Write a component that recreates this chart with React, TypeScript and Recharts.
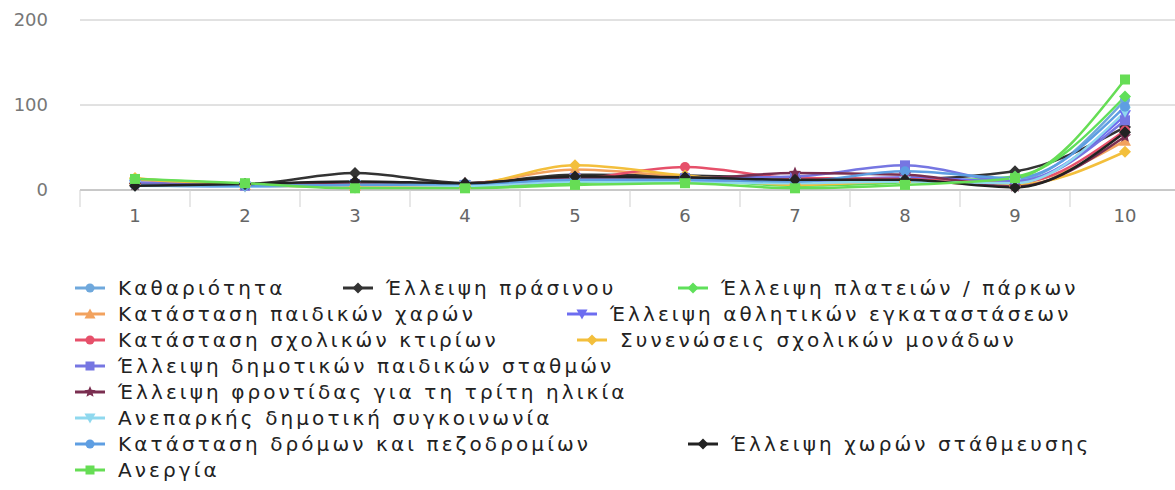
import React from 'react';
import { LineChart, Line, XAxis, YAxis, CartesianGrid } from 'recharts';

const categories = ['1', '2', '3', '4', '5', '6', '7', '8', '9', '10'];
const yTicks = [0, 100, 200];

const kathariotita = [7, 5, 7, 6, 12, 10, 8, 12, 12, 106];
const prasinou = [8, 7, 20, 8, 18, 17, 14, 13, 22, 74];
const plateion = [13, 7, 3, 4, 8, 12, 5, 9, 16, 110];
const paidikonXaron = [12, 6, 5, 7, 24, 16, 12, 14, 9, 58];
const athlitikon = [6, 4, 6, 6, 14, 11, 10, 15, 10, 88];
const sxolikonKtirion = [8, 5, 8, 6, 12, 27, 14, 13, 8, 70];
const synenoseis = [14, 5, 4, 6, 29, 17, 6, 10, 6, 45];
const stathmon = [9, 5, 7, 6, 14, 14, 16, 29, 10, 82];
const tritiIlikia = [6, 6, 7, 8, 14, 13, 20, 18, 4, 63];
const sygkoinonia = [5, 4, 6, 5, 10, 9, 8, 10, 8, 92];
const dromon = [6, 5, 6, 7, 12, 12, 10, 22, 14, 98];
const stathmeusis = [5, 7, 10, 8, 16, 15, 12, 12, 3, 68];
const anergia = [13, 8, 2, 2, 6, 8, 2, 6, 14, 130];

const series = [
  { key: 's1', name: 'Καθαριότητα', values: kathariotita, color: '#6fa8dc', shape: 'circle' },
  { key: 's2', name: 'Έλλειψη πράσινου', values: prasinou, color: '#333333', shape: 'diamond' },
  { key: 's3', name: 'Έλλειψη πλατειών / πάρκων', values: plateion, color: '#5fe05a', shape: 'diamond' },
  { key: 's4', name: 'Κατάσταση παιδικών χαρών', values: paidikonXaron, color: '#f2a25e', shape: 'triangle' },
  { key: 's5', name: 'Έλλειψη αθλητικών εγκαταστάσεων', values: athlitikon, color: '#6d6df0', shape: 'triangleDown' },
  { key: 's6', name: 'Κατάσταση σχολικών κτιρίων', values: sxolikonKtirion, color: '#e6506a', shape: 'circle' },
  { key: 's7', name: 'Συνενώσεις σχολικών μονάδων', values: synenoseis, color: '#f3bf3c', shape: 'diamond' },
  { key: 's8', name: 'Έλλειψη δημοτικών παιδικών σταθμών', values: stathmon, color: '#7676e2', shape: 'square' },
  { key: 's9', name: 'Έλλειψη φροντίδας για τη τρίτη ηλικία', values: tritiIlikia, color: '#7a2e50', shape: 'star' },
  { key: 's10', name: 'Ανεπαρκής δημοτική συγκοινωνία', values: sygkoinonia, color: '#8fd8ee', shape: 'triangleDown' },
  { key: 's11', name: 'Κατάσταση δρόμων και πεζοδρομίων', values: dromon, color: '#5e9ee2', shape: 'circle' },
  { key: 's12', name: 'Έλλειψη χωρών στάθμευσης', values: stathmeusis, color: '#222222', shape: 'diamond' },
  { key: 's13', name: 'Ανεργία', values: anergia, color: '#66dd55', shape: 'square' },
];

// legend rows: series index + left edge of the icon
const legendRows = [
  [[0, 75], [1, 343], [2, 678]],
  [[3, 75], [4, 567]],
  [[5, 75], [6, 577]],
  [[7, 75]],
  [[8, 75]],
  [[9, 75]],
  [[10, 75], [11, 688]],
  [[12, 75]],
];

const data = categories.map((c, i) => {
  const row: any = { cat: c };
  series.forEach((s) => (row[s.key] = s.values[i]));
  return row;
});

function Marker({ cx, cy, shape, color, r = 5 }: any) {
  if (cx == null || cy == null) return null;
  if (shape === 'circle') return <circle cx={cx} cy={cy} r={r} fill={color} />;
  if (shape === 'square') return <rect x={cx - r} y={cy - r} width={r * 2} height={r * 2} fill={color} />;
  if (shape === 'diamond')
    return <polygon points={`${cx},${cy - r - 1} ${cx + r + 1},${cy} ${cx},${cy + r + 1} ${cx - r - 1},${cy}`} fill={color} />;
  if (shape === 'triangle')
    return <polygon points={`${cx},${cy - r - 1} ${cx + r + 1},${cy + r} ${cx - r - 1},${cy + r}`} fill={color} />;
  if (shape === 'triangleDown')
    return <polygon points={`${cx},${cy + r + 1} ${cx + r + 1},${cy - r} ${cx - r - 1},${cy - r}`} fill={color} />;
  const pts: string[] = [];
  for (let k = 0; k < 10; k++) {
    const rr = k % 2 === 0 ? r + 1.5 : (r + 1.5) * 0.45;
    const a = -Math.PI / 2 + (k * Math.PI) / 5;
    pts.push(`${cx + rr * Math.cos(a)},${cy + rr * Math.sin(a)}`);
  }
  return <polygon points={pts.join(' ')} fill={color} />;
}

// category label plus a small divider tick at the left edge of its slot
function CatTick(props: any) {
  const { x, y, payload, width, visibleTicksCount } = props;
  const step = width / visibleTicksCount;
  const top = y - 19;
  return (
    <g>
      <line x1={x - step / 2} y1={top} x2={x - step / 2} y2={top + 17} stroke="#cfcfcf" />
      <text x={x} y={y} dy="0.71em" textAnchor="middle" fontSize={18} fill="#666" fontFamily='"DejaVu Sans", sans-serif'>
        {payload.value}
      </text>
    </g>
  );
}

function LegendBlock() {
  return (
    <div style={{ position: 'absolute', left: 0, top: 275, width: 1175, height: 215 }}>
      {legendRows.map((row, ri) =>
        row.map(([si, left]) => {
          const s = series[si];
          return (
            <div
              key={s.key}
              style={{
                position: 'absolute',
                left,
                top: ri * 26,
                height: 26,
                display: 'flex',
                alignItems: 'center',
                whiteSpace: 'nowrap',
              }}
            >
              <svg width={30} height={16} style={{ marginRight: 13 }}>
                <line x1={0} y1={8} x2={30} y2={8} stroke={s.color} strokeWidth={3} />
                <Marker cx={15} cy={8} shape={s.shape} color={s.color} r={4.5} />
              </svg>
              <span
                style={{
                  fontFamily: '"DejaVu Sans", sans-serif',
                  fontSize: 20,
                  letterSpacing: 3.1,
                  color: '#222',
                }}
              >
                {s.name}
              </span>
            </div>
          );
        })
      )}
    </div>
  );
}

export default function App() {
  return (
    <div style={{ position: 'absolute', left: 0, top: 0, width: 1175, height: 490, background: '#fff', overflow: 'hidden' }}>
      <LineChart width={1175} height={240} data={data} margin={{ top: 20, right: -5, left: 0, bottom: 0 }}>
        <CartesianGrid vertical={false} stroke="#c4c4c4" />
        <XAxis
          dataKey="cat"
          height={50}
          padding={{ left: 55, right: 55 }}
          axisLine={{ stroke: '#b0b0b0' }}
          tickLine={false}
          tickSize={0}
          tickMargin={19}
          interval={0}
          tick={CatTick}
        />
        <YAxis
          width={80}
          domain={[0, 200]}
          ticks={yTicks}
          axisLine={false}
          tickLine={false}
          tickSize={0}
          tickMargin={32}
          tick={{ fontSize: 18, fill: '#777', fontFamily: '"DejaVu Sans", sans-serif' }}
        />
        {series.map((s) => (
          <Line
            key={s.key}
            dataKey={s.key}
            name={s.name}
            type="monotone"
            stroke={s.color}
            strokeWidth={2.5}
            isAnimationActive={false}
            activeDot={false}
            dot={(p: any) => <Marker key={`${s.key}-${p.index}`} cx={p.cx} cy={p.cy} shape={s.shape} color={s.color} />}
          />
        ))}
      </LineChart>
      <LegendBlock />
    </div>
  );
}
